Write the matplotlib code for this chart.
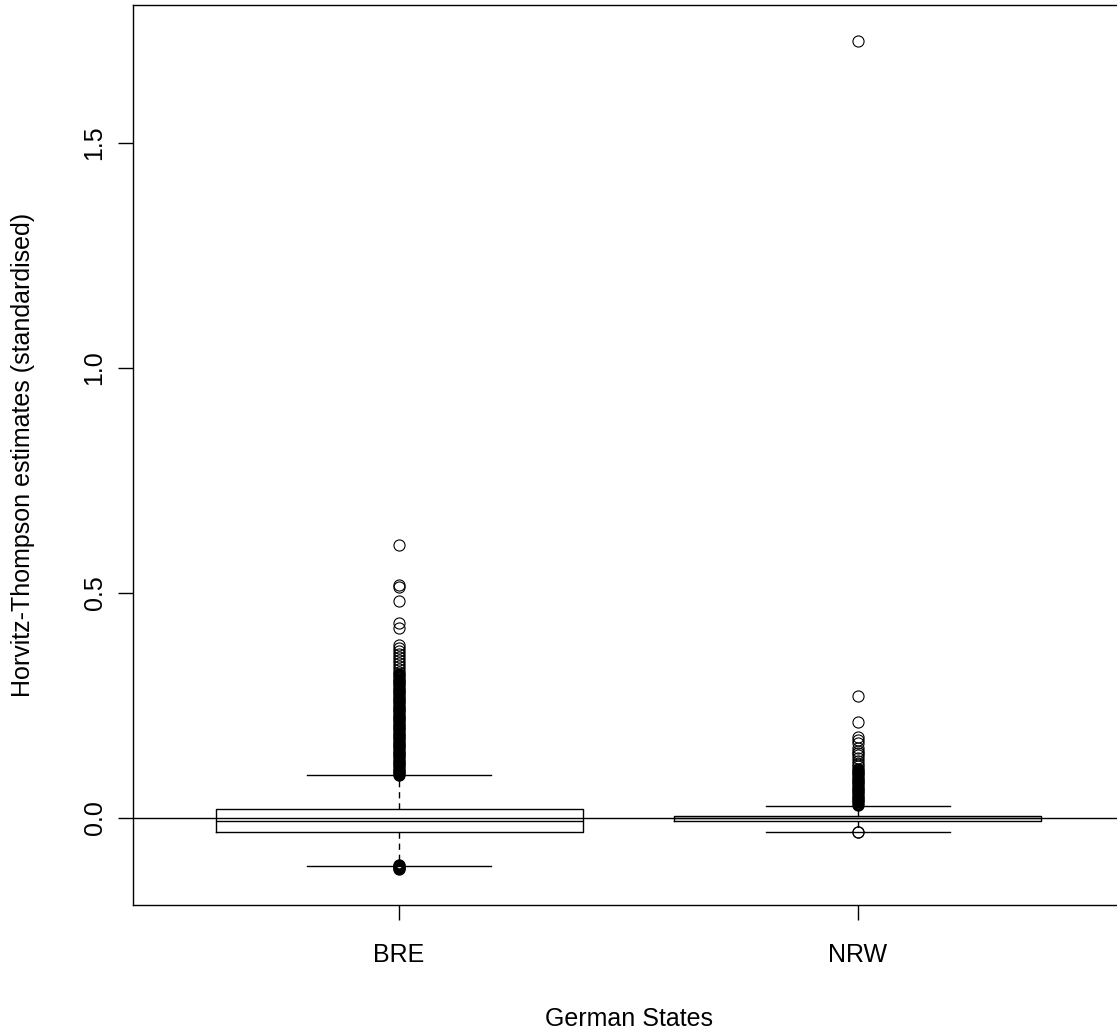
import matplotlib
matplotlib.use("Agg")
import matplotlib.pyplot as plt

plt.rcParams['font.family'] = ['Liberation Sans', 'DejaVu Sans']

# ---- data ----
states = ["BRE", "NRW"]
medians = [-0.006, 0.000]
q1 = [-0.030, -0.0067]
q3 = [0.020, 0.0044]
whisker_low = [-0.107, -0.030]
whisker_high = [0.095, 0.027]

# isolated / lightly stacked outliers
bre_outliers_sparse = [0.325, 0.332, 0.338, 0.345, 0.352, 0.358, 0.365, 0.372,
                       0.378, 0.384, 0.423, 0.434, 0.483, 0.514, 0.518, 0.607]
nrw_outliers_sparse = [0.116, 0.121, 0.127, 0.133, 0.139, 0.145, 0.150, 0.156,
                       0.166, 0.173, 0.180, 0.214, 0.271, 1.727, -0.030, -0.031]
# densely packed outliers (appear as a solid column)
bre_outliers_dense = [0.095, 0.100, 0.105, 0.110, 0.115, 0.120, 0.125, 0.130,
                      0.135, 0.140, 0.145, 0.150, 0.155, 0.160, 0.165, 0.170,
                      0.175, 0.180, 0.185, 0.190, 0.195, 0.200, 0.205, 0.210,
                      0.215, 0.220, 0.225, 0.230, 0.235, 0.240, 0.245, 0.250,
                      0.255, 0.260, 0.265, 0.270, 0.275, 0.280, 0.285, 0.290,
                      0.295, 0.300, 0.305, 0.310, 0.315, 0.320,
                      -0.104, -0.107, -0.110, -0.113]
nrw_outliers_dense = [0.030, 0.035, 0.040, 0.045, 0.050, 0.055, 0.060, 0.065,
                      0.070, 0.075, 0.080, 0.085, 0.090, 0.095, 0.100, 0.105,
                      0.110]

yticks = [0.0, 0.5, 1.0, 1.5]
ytick_labels = ["0.0", "0.5", "1.0", "1.5"]
xlabel = "German States"
ylabel = "Horvitz-Thompson estimates (standardised)"

# ---- figure ----
W, H = 1117, 1034
fig = plt.figure(figsize=(W / 100, H / 100), dpi=100)
left, right, top, bottom = 133, 1124, 5, 905
ax = fig.add_axes([left / W, 1 - bottom / H, (right - left) / W, (bottom - top) / H])

positions = [1, 2]
sparse = [bre_outliers_sparse, nrw_outliers_sparse]
dense = [bre_outliers_dense, nrw_outliers_dense]
stats = []
for i, name in enumerate(states):
    stats.append(dict(label=name, med=medians[i], q1=q1[i], q3=q3[i],
                      whislo=whisker_low[i], whishi=whisker_high[i],
                      fliers=sparse[i]))

lw = 1.0
ax.bxp(stats, positions=positions, widths=0.8, capwidths=0.4,
       patch_artist=False,
       boxprops=dict(color='black', linewidth=lw),
       medianprops=dict(color='black', linewidth=lw),
       whiskerprops=dict(color='black', linewidth=lw, linestyle=(0, (4.5, 3.5))),
       capprops=dict(color='black', linewidth=lw),
       flierprops=dict(marker='o', markersize=8, markerfacecolor='none',
                       markeredgecolor='black', markeredgewidth=0.8,
                       linestyle='none'))
for p, vals in zip(positions, dense):
    ax.plot([p] * len(vals), vals, linestyle='none', marker='o', markersize=6.5,
            markerfacecolor='none', markeredgecolor='black', markeredgewidth=2.4)

ax.axhline(0, color='black', linewidth=lw)

ax.set_xlim(0.42, 2.58)
ax.set_ylim((818 - 905) / 450, (818 - 5) / 450)

ax.set_yticks(yticks)
ax.set_yticklabels(ytick_labels)
ax.set_xticks(positions)
ax.set_xticklabels(states)

for s in ax.spines.values():
    s.set_color('black')
    s.set_linewidth(lw)

ax.tick_params(axis='both', direction='out', length=11, width=lw, colors='black',
               labelsize=18)
ax.tick_params(axis='y', labelrotation=90, pad=8)
ax.tick_params(axis='x', pad=16)
for lbl in ax.get_yticklabels():
    lbl.set_va('center')

fig.text(23.4 / W, 1 - 455 / H, ylabel, rotation=90, ha='center', va='center',
         fontsize=18)
fig.text(629 / W, 1 - 1019.4 / H, xlabel, ha='center', va='center', fontsize=18)

fig.savefig("out.png", dpi=100, facecolor='white')
